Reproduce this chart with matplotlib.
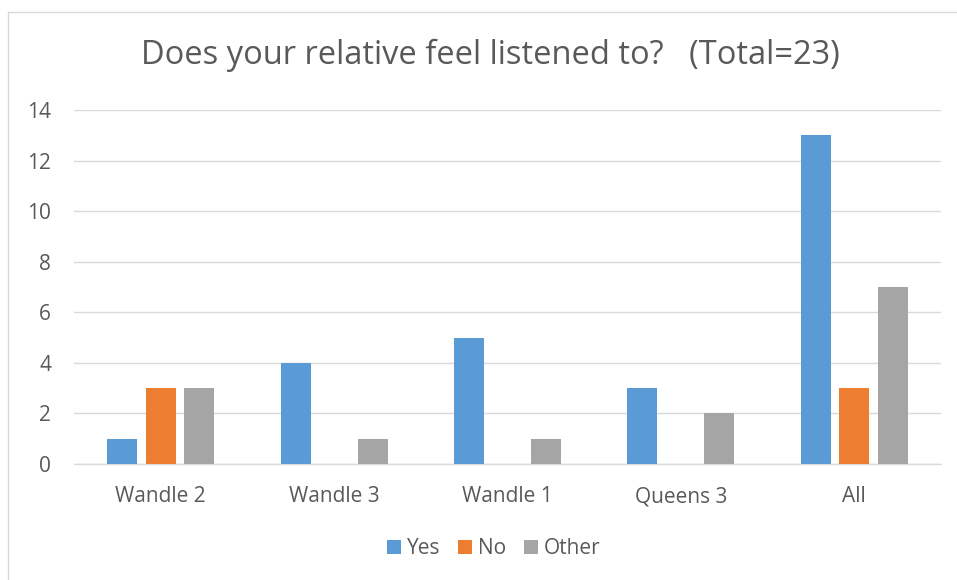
import numpy as np
import matplotlib.pyplot as plt
from matplotlib.patches import Rectangle

# data
categories = ["Wandle 2", "Wandle 3", "Wandle 1", "Queens 3", "All"]
yes = [1, 4, 5, 3, 13]
no = [3, 0, 0, 0, 3]
other = [3, 1, 1, 2, 7]
series_names = ["Yes", "No", "Other"]
colors = ["#5B9BD5", "#ED7D31", "#A5A5A5"]

plt.rcParams['font.family'] = ['Open Sans', 'DejaVu Sans']

fig = plt.figure(figsize=(9.57, 5.8), dpi=100)
# outer chart border
fig.patches.append(Rectangle((8 / 957, -0.01), 1.0, 1 - 12 / 580 + 0.01,
                             transform=fig.transFigure, fill=False,
                             edgecolor="#d9d9d9", linewidth=1.0))

ax = fig.add_axes([74 / 957, 116 / 580, 867 / 957, 354 / 580])

x = np.arange(len(categories))
width = 0.173
step = 0.222
for i, (vals, name, c) in enumerate(zip([yes, no, other], series_names, colors)):
    ax.bar(x + (i - 1) * step, vals, width, color=c, label=name, zorder=3)

ax.set_xlim(-0.5, 4.5)
ax.set_ylim(0, 14)
ax.set_yticks(range(0, 15, 2))
ax.set_xticks(x)
ax.set_xticklabels(categories)
ax.grid(axis='y', color="#d9d9d9", linewidth=1.0, zorder=0)
for s in ["top", "right", "left"]:
    ax.spines[s].set_visible(False)
ax.spines["bottom"].set_color("#d9d9d9")
ax.spines["bottom"].set_linewidth(1.0)
ax.tick_params(axis='both', length=0, labelsize=15, colors="#595959")
ax.tick_params(axis='x', pad=16)
ax.tick_params(axis='y', pad=16.5)

fig.text(490 / 957, 1 - 55 / 580, "Does your relative feel listened to?   (Total=23)",
         ha='center', va='center', fontsize=23.5, color="#595959")

fig.legend(loc='center', bbox_to_anchor=(494 / 957, 1 - 549 / 580), ncol=3,
           frameon=False, fontsize=15, labelcolor="#595959",
           handlelength=0.65, handleheight=0.65, handletextpad=0.3,
           columnspacing=0.85, borderpad=0)

fig.savefig("out.png", dpi=100, facecolor="white")
